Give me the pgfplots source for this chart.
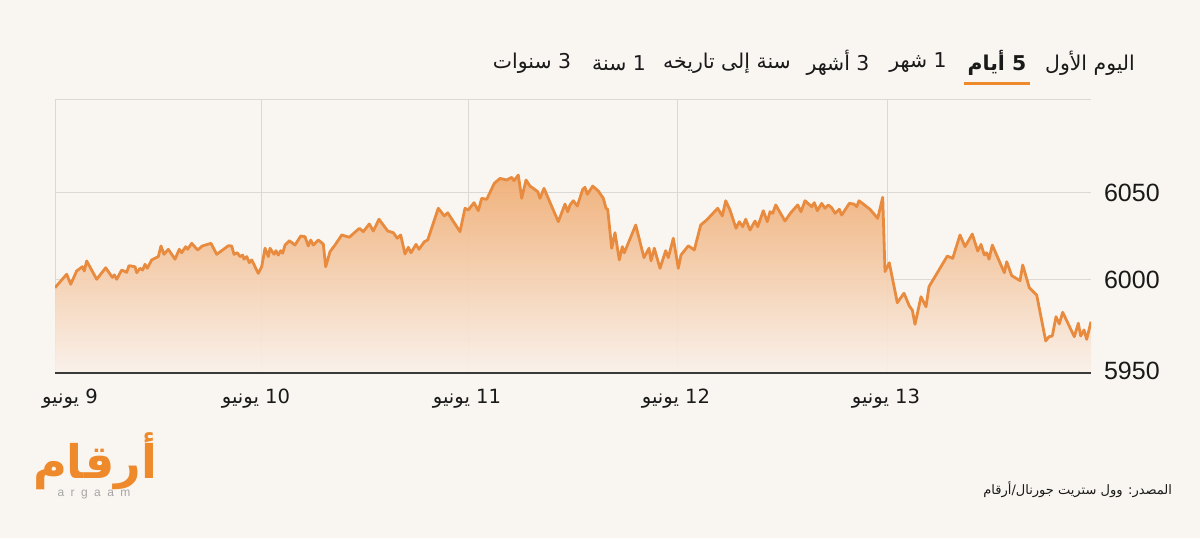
\documentclass[border=0pt]{standalone}
\usepackage{fontspec}
\usepackage{graphicx}
\usepackage{pgfplots}
\pgfplotsset{compat=1.18}
\usepackage{pgfplotstable}
\TeXXeTstate=1
\setmainfont{Liberation Sans}
\newfontfamily\arabicfont[Script=Arabic]{DejaVu Sans}
\definecolor{bgcol}{HTML}{F9F6F2}
\definecolor{linecol}{HTML}{E98B3E}
\definecolor{filltop}{HTML}{F0AC72}
\definecolor{fillbot}{HTML}{F9F1EA}
\definecolor{gridcol}{HTML}{DCD8D4}
\definecolor{axiscol}{HTML}{3A3A3A}
\definecolor{logocol}{HTML}{EE8A2C}
\definecolor{txtcol}{HTML}{1A1A1A}

\pgfplotstableread{
x y
55 5995.6
66.7 6003.3
70.7 5997.5
76.7 6005.2
82.3 6007.6
84.3 6005.2
86.7 6010.9
96.7 6000.4
105.7 6007.0
112.3 6001.5
114.3 6002.9
116.7 6000.4
121.7 6005.7
126.7 6004.4
129 6008.2
135 6007.6
136.7 6004.2
140 6006.7
142.7 6005.7
145 6009.0
147.3 6006.7
151.7 6011.5
158.3 6013.4
161 6019.5
164 6014.7
168.3 6017.6
175 6011.9
179.3 6017.6
181.7 6015.6
185.7 6019.1
187.7 6017.6
191.7 6021.0
197.7 6017.2
202.3 6019.5
211 6021.0
216.7 6014.7
228.3 6019.6
231.7 6019.5
234 6014.7
237.3 6015.6
240 6013.4
242.7 6014.3
244 6011.9
246.7 6013.4
249.3 6009.9
251.7 6011.5
258.3 6003.8
261.7 6007.6
265 6018.2
268.3 6013.4
270 6018.2
274 6014.7
276 6016.8
278.3 6014.3
280.7 6016.8
282.7 6015.3
285 6020.0
289.3 6022.5
295 6020.0
300.7 6025.2
305 6024.8
308.3 6019.5
310.7 6022.9
313.3 6020.0
318.3 6022.9
323.3 6020.6
325.7 6007.6
330 6016.2
335 6020.0
341.7 6025.8
349.3 6024.5
359.3 6029.6
363.3 6027.7
369.3 6032.1
373.3 6028.1
379 6034.8
387.7 6028.1
393.3 6027.1
397.3 6023.9
400.7 6025.8
405 6014.9
408.3 6018.7
411 6015.6
416 6020.4
419 6017.6
424.3 6021.9
427.7 6022.9
438.3 6041.1
444.3 6036.7
447.7 6038.5
460 6027.7
465 6041.1
468.3 6040.1
474 6044.3
478.3 6039.7
481.7 6046.8
486.7 6046.2
494.3 6055.4
500 6058.2
506.7 6057.3
511.7 6058.8
514 6056.9
518.3 6060.1
521.7 6046.8
526 6057.3
530 6053.8
533.3 6052.5
537.7 6050.6
540 6046.8
544 6052.5
558.3 6033.4
565 6043.5
567.7 6039.1
570 6043.0
573.3 6045.4
577.3 6042.4
582.7 6051.9
585 6053.1
587.3 6049.1
592.7 6053.8
598.3 6051.0
603.3 6046.8
606 6041.1
607.7 6040.5
611.7 6018.2
615 6027.1
619.3 6011.5
622.3 6019.1
624.3 6015.6
635.7 6031.5
644 6012.8
649 6018.2
651 6011.0
654.3 6018.2
660 6006.7
665.7 6016.8
668.3 6012.8
673.3 6023.9
678.3 6006.7
681 6014.3
688.3 6019.6
694.3 6017.2
700.7 6031.5
706.7 6034.4
717.7 6041.1
722.3 6036.7
725.7 6045.4
730 6040.1
736 6029.6
739.3 6033.4
742.7 6030.5
745.7 6034.8
750 6028.6
755 6033.8
757.7 6030.5
763.3 6039.7
767.3 6033.4
770 6039.1
772.7 6038.2
775.7 6043.0
785 6033.8
790.7 6038.5
797.7 6043.0
801 6039.1
805 6045.4
811.7 6042.0
814.3 6044.3
817.3 6039.7
821.7 6043.9
825 6041.1
828.3 6043.0
831.7 6041.4
835 6038.2
839.3 6040.5
841.7 6037.2
849.3 6043.9
854 6043.5
856.7 6042.0
859 6045.4
863.3 6043.5
870 6040.5
877.7 6035.3
882.7 6047.4
885 6004.8
889.3 6009.9
897.3 5987.0
904 5992.4
909.3 5985.1
912.3 5982.8
915 5974.6
921 5990.4
926 5984.7
929 5996.2
947.3 6013.7
952.7 6012.4
960 6025.8
965 6019.1
972.3 6026.3
977.7 6016.6
981 6020.4
984.3 6014.3
986.7 6015.6
989 6011.9
992.3 6020.0
1004.3 6004.2
1006.7 6010.5
1011.7 6002.5
1020 5999.6
1022.7 6008.6
1029.3 5995.6
1036.7 5991.4
1045.7 5965.1
1049 5967.5
1052.3 5967.9
1056 5979.0
1059.3 5974.8
1062.7 5981.5
1074.3 5967.5
1078.3 5975.2
1080.7 5967.9
1084 5971.4
1086.7 5966.0
1091 5976.1
}\pricedata

\newcommand{\tabfont}{\arabicfont\fontsize{10.2}{12}\selectfont}
\newcommand{\xlabfont}{\arabicfont\fontsize{9.8}{12}\selectfont}

\begin{document}
\begin{tikzpicture}
\path[use as bounding box] (0,0) rectangle (600pt,269pt);
\fill[bgcol] (0,0) rectangle (600pt,269pt);

% tabs
\node[text=txtcol, font=\tabfont] at (545pt,237.5pt) {\beginR اليوم الأول\endR};
\node[text=txtcol, font=\tabfont\bfseries] at (498.5pt,237.5pt) {\beginR 5 أيام\endR};
\node[text=txtcol, font=\tabfont] at (459pt,237.5pt) {\beginR 1 شهر\endR};
\node[text=txtcol, font=\tabfont] at (419pt,237.5pt) {\beginR 3 أشهر\endR};
\node[text=txtcol, font=\tabfont] at (363.5pt,237.5pt) {\beginR سنة إلى تاريخه\endR};
\node[text=txtcol, font=\tabfont] at (309.5pt,237.5pt) {\beginR 1 سنة\endR};
\node[text=txtcol, font=\tabfont] at (266pt,237.5pt) {\beginR 3 سنوات\endR};
\draw[logocol, line width=1.5pt] (482pt,227.5pt) -- (515pt,227.5pt);

\begin{axis}[
  at={(27.5pt,82.5pt)}, anchor=south west,
  scale only axis, width=518pt, height=137pt,
  xmin=55, xmax=1091, ymin=5946.7, ymax=6103.7,
  axis line style={draw=none},
  xtick={55,261,468,677,887}, xticklabels={},
  ytick={6000,6050}, yticklabels={6000,6050},
  extra y ticks={5950}, extra y tick labels={5950},
  extra y tick style={grid=none, y tick label style={yshift=-2pt}},
  yticklabel pos=right,
  major tick length=0pt,
  y tick label style={anchor=west, xshift=3pt, font=\fontsize{12.5}{12.5}\selectfont, text=txtcol},
  /pgf/number format/assume math mode=true,
  xmajorgrids, ymajorgrids,
  grid style={gridcol, line width=0.5pt},
]
\addplot[draw=none, top color=filltop, bottom color=fillbot, fill opacity=0.92]
  table[x=x, y=y] {\pricedata} -- (axis cs:1091,5946.7) -- (axis cs:55,5946.7) -- cycle;
\addplot[linecol, line width=1.4pt, line join=round, no marks] table[x=x, y=y] {\pricedata};
\draw[gridcol, line width=0.5pt] (rel axis cs:0,1) -- (rel axis cs:1,1);
\draw[axiscol, line width=1pt] (rel axis cs:0,0) -- (rel axis cs:1,0);
\end{axis}

% x labels
\node[text=txtcol, font=\xlabfont] at (35pt,69.5pt) {\beginR 9 يونيو\endR};
\node[text=txtcol, font=\xlabfont] at (128pt,69.5pt) {\beginR 10 يونيو\endR};
\node[text=txtcol, font=\xlabfont] at (233.5pt,69.5pt) {\beginR 11 يونيو\endR};
\node[text=txtcol, font=\xlabfont] at (338pt,69.5pt) {\beginR 12 يونيو\endR};
\node[text=txtcol, font=\xlabfont] at (443pt,69.5pt) {\beginR 13 يونيو\endR};

% logo
\node[text=logocol, inner sep=0pt] at (47.5pt,38.5pt) {\resizebox{62pt}{!}{\arabicfont\bfseries\beginR أرقام\endR}};
\node[text=gray!70, inner sep=0pt, font=\fontsize{6}{6}\selectfont] at (47pt,21.5pt) {a\hspace{3.2pt}r\hspace{3.2pt}g\hspace{3.2pt}a\hspace{3.2pt}a\hspace{3.2pt}m};

% source
\node[anchor=east, text=txtcol, font=\arabicfont\fontsize{6.5}{8}\selectfont] at (589.5pt,24pt) {\beginR المصدر: وول ستريت جورنال/أرقام\endR};
\end{tikzpicture}
\end{document}
